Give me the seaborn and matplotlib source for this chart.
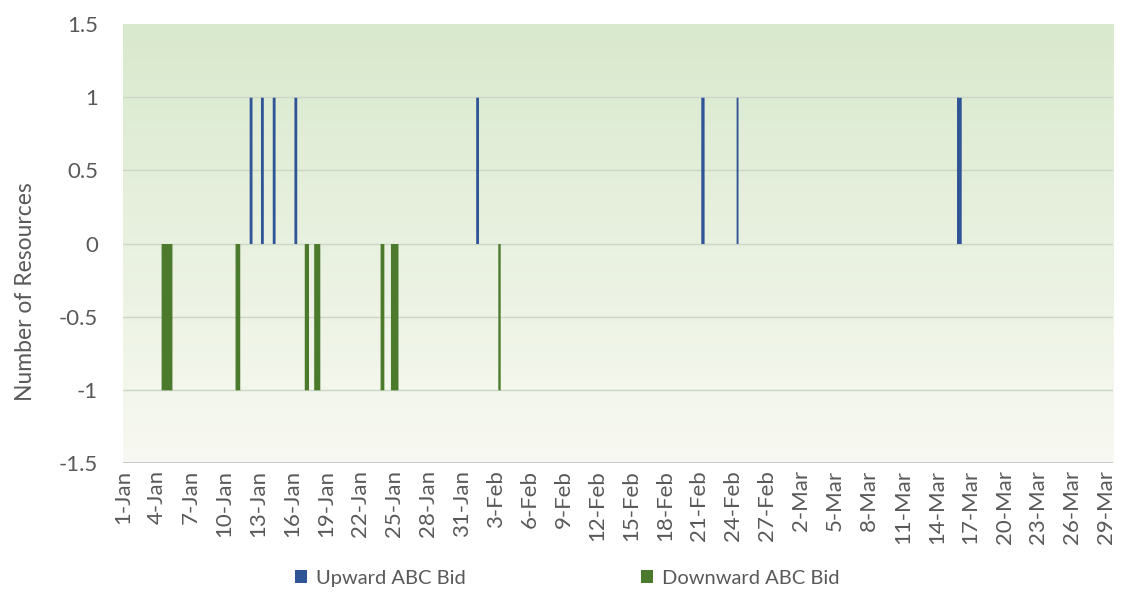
import numpy as np
import pandas as pd
import matplotlib
matplotlib.use("Agg")
import matplotlib.pyplot as plt
from matplotlib.patches import Patch
import seaborn as sns

# Hourly ABC bid activity, 1 Jan - 29 Mar 2019
period_start = "2019-01-01 00:00"
n_days = 88

# Upward bids: start of each active block and its length in hours (value +1)
up_start = ["2019-01-12 04:00", "2019-01-13 04:00", "2019-01-14 05:00",
            "2019-01-16 03:00", "2019-02-01 05:00", "2019-02-21 03:00",
            "2019-02-24 06:00", "2019-03-15 18:00"]
up_hours = [6, 6, 6, 6, 6, 7, 4, 10]
up_value = 1

# Downward bids: start of each active block and its length in hours (value -1)
down_start = ["2019-01-04 09:00", "2019-01-10 22:00", "2019-01-17 01:00",
              "2019-01-17 21:00", "2019-01-23 18:00", "2019-01-24 16:00",
              "2019-02-03 04:00"]
down_hours = [23, 10, 9, 13, 8, 16, 5]
down_value = -1

series_names = ["Upward ABC Bid", "Downward ABC Bid"]
series_colors = ["#2f5597", "#4c7a2c"]

tick_dates = pd.date_range(period_start, periods=30, freq="3D")
tick_labels = [f"{d.day}-{d.strftime('%b')}" for d in tick_dates]

y_ticks = [-1.5, -1, -0.5, 0, 0.5, 1, 1.5]
y_tick_labels = ["-1.5", "-1", "-0.5", "0", "0.5", "1", "1.5"]


def hourly_rows(starts, hours, value, name):
    t0 = pd.Timestamp(period_start)
    rows = []
    for s, h in zip(starts, hours):
        for ts in pd.date_range(s, periods=h, freq="h"):
            # centre of the hour, in days since the start of the period
            day = (ts - t0) / pd.Timedelta(days=1) + 0.5 / 24
            rows.append({"day": day, "value": value, "series": name})
    return rows


df = pd.DataFrame(hourly_rows(up_start, up_hours, up_value, series_names[0])
                  + hourly_rows(down_start, down_hours, down_value, series_names[1]))

sns.set_theme(style="white")
plt.rcParams["font.family"] = ["Lato", "DejaVu Sans"]
text_color = "#595959"

fig = plt.figure(figsize=(11.26, 6.13), dpi=100)
ax = fig.add_axes([0.1092, 0.2447, 0.8793, 0.7161])

x_max = 87.6

# soft green gradient behind the plot area
grad = np.linspace(0, 1, 256).reshape(-1, 1)
top_rgb = np.array([217, 233, 205]) / 255
bot_rgb = np.array([248, 249, 242]) / 255
img = bot_rgb[None, None, :] * (1 - grad[..., None]) + top_rgb[None, None, :] * grad[..., None]
ax.imshow(img[::-1], extent=[0, x_max, -1.5, 1.5], aspect="auto",
          origin="upper", zorder=0, interpolation="bicubic")

for yv in y_ticks[1:-1]:
    ax.axhline(yv, color="#cdd5c6", lw=1.0, zorder=1)
ax.axhline(-1.5, color="#bfbfbf", lw=1.2, zorder=1)

sns.histplot(data=df, x="day", weights="value", hue="series",
             hue_order=series_names, palette=dict(zip(series_names, series_colors)),
             bins=n_days * 24, binrange=(0, n_days), element="step", fill=True,
             alpha=1, linewidth=0, legend=False, ax=ax, zorder=3)

ax.set_xlim(0, x_max)
ax.set_ylim(-1.5, 1.5)
ax.set_xticks([(d - pd.Timestamp(period_start)).days for d in tick_dates])
ax.set_xticklabels(tick_labels, rotation=90, fontsize=16, color=text_color)
ax.set_yticks(y_ticks)
ax.set_yticklabels(y_tick_labels, fontsize=16, color=text_color)
ax.tick_params(axis="x", length=0, pad=5)
ax.tick_params(axis="y", length=0, pad=18)
ax.set_xlabel("")
ax.set_ylabel("Number of Resources", fontsize=16.5, color=text_color)
ax.yaxis.set_label_coords(-0.088, 0.39)
for sp in ax.spines.values():
    sp.set_visible(False)

handles = [Patch(facecolor=c, edgecolor="none") for c in series_colors]
fig.legend(handles, series_names, loc="center", bbox_to_anchor=(0.504, 0.057),
           ncol=2, frameon=False, fontsize=14.5, labelcolor=text_color,
           handlelength=0.6, handleheight=0.6, handletextpad=0.45,
           columnspacing=8.7)

fig.savefig("out.png", dpi=100, facecolor="white")
